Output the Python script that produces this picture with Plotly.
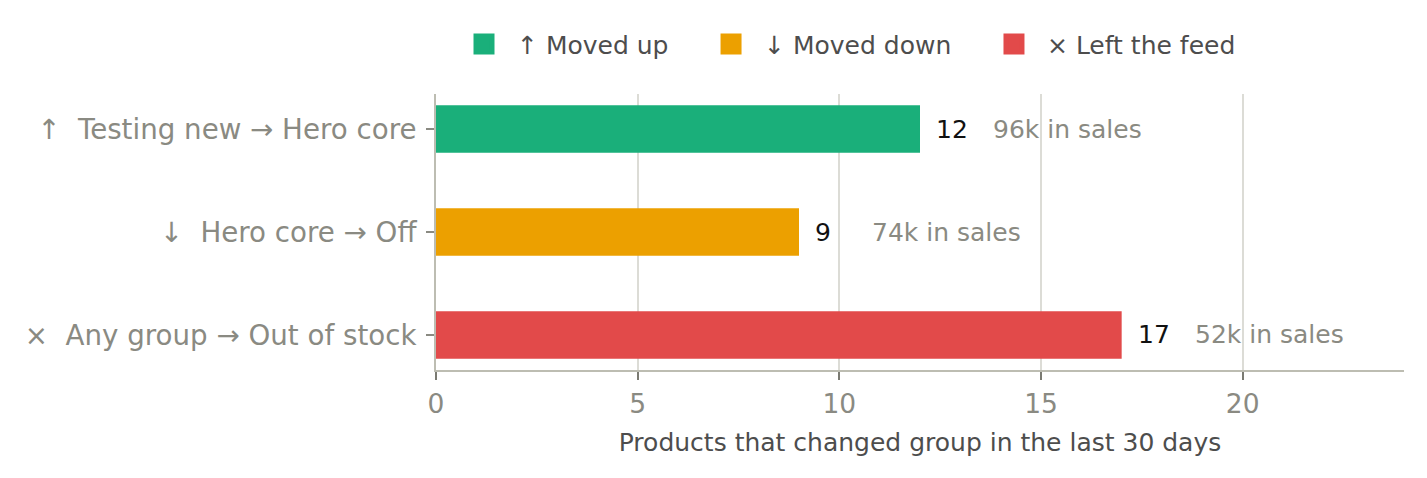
import plotly.graph_objects as go

categories = ["↑\u00a0\u00a0Testing new → Hero core", "↓\u00a0\u00a0Hero core → Off", "×\u00a0\u00a0Any group → Out of stock"]
legend_names = ["↑ Moved up", "↓ Moved down", "× Left the feed"]
counts = [12, 9, 17]
sales_labels = ["96k in sales", "74k in sales", "52k in sales"]
colors = ["#1aaf7a", "#eca000", "#e24a4a"]
x_ticks = [0, 5, 10, 15, 20]
legend_ids = ["legend", "legend2", "legend3"]
legend_x = [0.0155, 0.2707, 0.563]

fig = go.Figure()
for cat, name, val, col, lid in zip(categories, legend_names, counts, colors, legend_ids):
    fig.add_trace(go.Bar(
        x=[val], y=[cat], orientation="h", marker=dict(color=col, line=dict(width=0)),
        width=0.46, showlegend=False, hoverinfo="skip"))
    fig.add_trace(go.Scatter(
        x=[None], y=[None], mode="markers", name=name, legend=lid,
        marker=dict(symbol="square", size=16, color=col, line=dict(color=col, width=5))))

for cat, val, sl in zip(categories, counts, sales_labels):
    fig.add_annotation(x=val, y=cat, text=str(val), showarrow=False, xanchor="left",
                       xshift=14, font=dict(size=25, color="#111111"))
    fig.add_annotation(x=val, y=cat, text=sl, showarrow=False, xanchor="left",
                       xshift=71, font=dict(size=25, color="#8a8a82"))

legend_common = dict(orientation="h", y=1.18, yanchor="middle", xanchor="left",
                     font=dict(size=25, color="#4d4d4d"), itemwidth=56,
                     bgcolor="rgba(0,0,0,0)")

fig.update_layout(
    width=1411, height=462,
    margin=dict(l=428, r=15, t=86, b=100),
    paper_bgcolor="white", plot_bgcolor="white",
    font=dict(family="DejaVu Sans", color="#4d4d4d"),
    barmode="overlay",
    legend=dict(x=legend_x[0], **legend_common),
    legend2=dict(x=legend_x[1], **legend_common),
    legend3=dict(x=legend_x[2], **legend_common),
    xaxis=dict(range=[0, 24], tickvals=x_ticks, showgrid=True, gridcolor="#dcdcd6", gridwidth=1.5,
               zeroline=False, showline=True, linecolor="#bdbdb2", linewidth=2,
               ticks="outside", ticklen=8, tickcolor="#7a7a72", tickwidth=2,
               ticklabelstandoff=1,
               tickfont=dict(size=26.5, color="#8a8a82"),
               title=dict(text="Products that changed group in the last 30 days",
                          font=dict(size=25, color="#4d4d4d"), standoff=16)),
    yaxis=dict(categoryorder="array", categoryarray=categories, autorange=False,
               range=[2.34, -0.34], showgrid=False, zeroline=False, showline=True,
               linecolor="#bdbdb2", linewidth=2, ticks="outside", ticklen=8,
               tickcolor="#8a8a82", tickwidth=2, ticklabelstandoff=4,
               tickfont=dict(size=27.7, color="#8a8a82")),
)
fig.write_html("out.html")
